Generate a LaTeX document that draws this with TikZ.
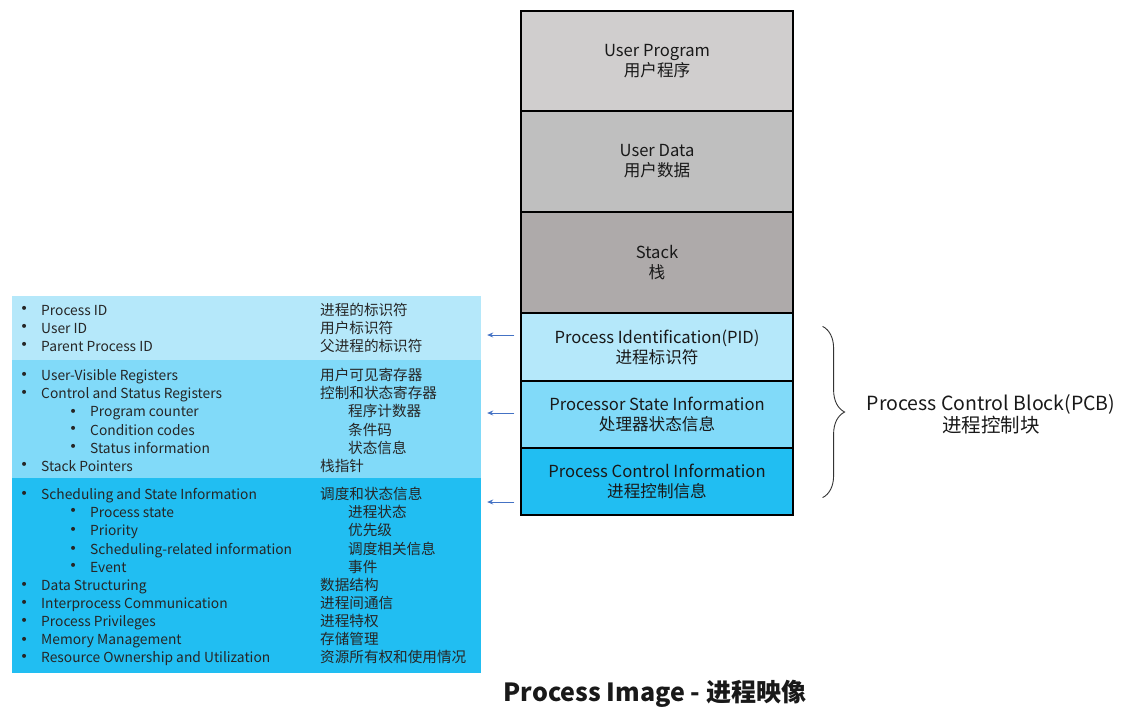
\documentclass[tikz,border=0pt]{standalone}
\usepackage{fontspec}
\setmainfont{Noto Sans CJK SC}
\newfontfamily\bulletfont{DejaVu Sans}
\usetikzlibrary{arrows.meta}
\usetikzlibrary{decorations.pathreplacing}
\definecolor{pgmgray}{HTML}{D0CECE}
\definecolor{datagray}{HTML}{BFBFBF}
\definecolor{stackgray}{HTML}{AEAAAA}
\definecolor{idblue}{HTML}{B5E8FA}
\definecolor{stateblue}{HTML}{81DAF9}
\definecolor{ctrlblue}{HTML}{21BEF2}
\definecolor{ptrblue}{HTML}{4472C4}

\begin{document}
\begin{tikzpicture}[x=1pt, y=-1pt,
    block/.style={draw, line width=1.2pt, minimum width=272pt, inner sep=0pt, align=center, text=black!90, font=\fontsize{16.6}{20}\selectfont},
    panel/.style={inner sep=0pt, minimum width=469pt},
    lvla/.style={anchor=base west, inner sep=0pt, text=black!85, font=\fontsize{13.8}{18}\selectfont, label={[inner sep=0pt, label distance=12.5pt, text=black!85, font=\bulletfont\fontsize{13.8}{18}\selectfont]left:•}},
    lvlb/.style={lvla},
    zh/.style={anchor=base west, inner sep=0pt, text=black!85, font=\fontsize{14.6}{18}\selectfont},
    ptr/.style={-{Stealth[length=6pt, width=5pt]}, draw=ptrblue, line width=0.8pt, shorten <=6pt, shorten >=6pt},
    brace/.style={decorate, decoration={brace, amplitude=22pt}, line width=0.9pt, draw=black!80}]
      \useasboundingbox (0,0) rectangle (1130,716);

      \node[panel, fill=idblue, minimum height=64pt] (idrow) at (246.5,328) {};
      \node[panel, fill=stateblue, minimum height=118pt] (staterow) at (246.5,419) {};
      \node[panel, fill=ctrlblue, minimum height=195pt] (ctrlrow) at (246.5,575.5) {};

      \node[block, fill=pgmgray, minimum height=100pt] (pgm) at (657,61) {User Program\\用户程序};
      \node[block, fill=datagray, minimum height=101pt] (data) at (657,161.5) {User Data\\用户数据};
      \node[block, fill=stackgray, minimum height=101pt] (stack) at (657,262.5) {Stack\\栈};
      \node[block, fill=idblue, minimum height=68pt] (pid) at (657,347) {Process Identification(PID)\\进程标识符};
      \node[block, fill=stateblue, minimum height=67pt] (pstate) at (657,414.5) {Processor State Information\\处理器状态信息};
      \node[block, fill=ctrlblue, minimum height=67pt] (pctrl) at (657,481.5) {Process Control Information\\进程控制信息};

      \node[lvla] (e1) at (41,315) {Process ID};
      \node[lvla] (e2) at (41,333) {User ID};
      \node[lvla] (e3) at (41,351) {Parent Process ID};
      \node[lvla] (e4) at (41,380) {User-Visible Registers};
      \node[lvla] (e5) at (41,398) {Control and Status Registers};
      \node[lvlb] (e6) at (90,416) {Program counter};
      \node[lvlb] (e7) at (90,435) {Condition codes};
      \node[lvlb] (e8) at (90,453) {Status information};
      \node[lvla] (e9) at (41,471) {Stack Pointers};
      \node[lvla] (e10) at (41,499) {Scheduling and State Information};
      \node[lvlb] (e11) at (90,517) {Process state};
      \node[lvlb] (e12) at (90,535) {Priority};
      \node[lvlb] (e13) at (90,554) {Scheduling-related information};
      \node[lvlb] (e14) at (90,572) {Event};
      \node[lvla] (e15) at (41,590) {Data Structuring};
      \node[lvla] (e16) at (41,608) {Interprocess Communication};
      \node[lvla] (e17) at (41,626) {Process Privileges};
      \node[lvla] (e18) at (41,644) {Memory Management};
      \node[lvla] (e19) at (41,662) {Resource Ownership and Utilization};

      \node[zh] (c1) at (320,315) {进程的标识符};
      \node[zh] (c2) at (320,333) {用户标识符};
      \node[zh] (c3) at (320,351) {父进程的标识符};
      \node[zh] (c4) at (320,380) {用户可见寄存器};
      \node[zh] (c5) at (320,398) {控制和状态寄存器};
      \node[zh] (c6) at (348,416) {程序计数器};
      \node[zh] (c7) at (348,435) {条件码};
      \node[zh] (c8) at (348,453) {状态信息};
      \node[zh] (c9) at (320,471) {栈指针};
      \node[zh] (c10) at (320,499) {调度和状态信息};
      \node[zh] (c11) at (348,517) {进程状态};
      \node[zh] (c12) at (348,535) {优先级};
      \node[zh] (c13) at (348,554) {调度相关信息};
      \node[zh] (c14) at (348,572) {事件};
      \node[zh] (c15) at (320,590) {数据结构};
      \node[zh] (c16) at (320,608) {进程间通信};
      \node[zh] (c17) at (320,626) {进程特权};
      \node[zh] (c18) at (320,644) {存储管理};
      \node[zh] (c19) at (320,662) {资源所有权和使用情况};

      \node[align=center, inner sep=0pt, text=black!90, font=\fontsize{19.5}{22}\selectfont] (pcb) at (991,414) {Process Control Block(PCB)\\进程控制块};
      \node[inner sep=0pt, text=black!90, font=\bfseries\fontsize{25}{28}\selectfont] (title) at (655,694) {Process Image - 进程映像};

      \draw[ptr] (pid.west |- 0,335) -- (idrow.east |- 0,335);
      \draw[ptr] (pstate.west |- 0,413) -- (staterow.east |- 0,413);
      \draw[ptr] (pctrl.west |- 0,502) -- (ctrlrow.east |- 0,502);
      \draw[brace] ([xshift=29pt, yshift=-14pt]pid.north east) -- ([xshift=29pt, yshift=18pt]pctrl.south east);
    \end{tikzpicture}
\end{document}
